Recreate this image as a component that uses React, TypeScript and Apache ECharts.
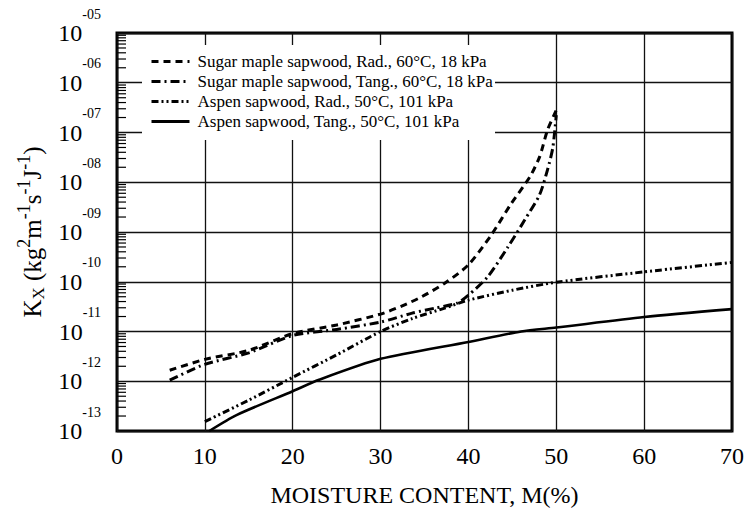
import React, { useEffect, useRef } from "react";
import * as echarts from "echarts";

// Series names, in legend order
const seriesNames = [
  "Sugar maple sapwood, Rad., 60°C, 18 kPa",
  "Sugar maple sapwood, Tang., 60°C, 18 kPa",
  "Aspen sapwood, Rad., 50°C, 101 kPa",
  "Aspen sapwood, Tang., 50°C, 101 kPa",
];

// Moisture content (%) and permeability-type coefficient Kx for each curve
const mapleRadM = [6, 10, 15, 20, 25, 30, 32.4, 34.7, 37.3, 40, 42.6, 44.9, 47, 48.1, 49, 50];
const mapleRadK = [
  1.66e-12, 2.75e-12, 4.17e-12, 9.1e-12, 1.35e-11, 2.24e-11, 3.24e-11, 5.01e-11, 9.33e-11,
  2.19e-10, 8.71e-10, 3.8e-9, 1.29e-8, 3.24e-8, 1.12e-7, 2.82e-7,
];

const mapleTangM = [6, 10, 15, 20, 25, 30, 33.6, 36.2, 38.7, 40, 42.2, 44.5, 46.4, 48.1, 49, 49.6, 50];
const mapleTangK = [
  1.05e-12, 2.19e-12, 3.72e-12, 8.32e-12, 1.1e-11, 1.55e-11, 2.34e-11, 2.95e-11, 3.72e-11,
  5.37e-11, 1.26e-10, 5.01e-10, 1.74e-9, 5.62e-9, 1.78e-8, 4.9e-8, 2.24e-7,
];

const aspenRadM = [10, 15, 20, 25, 30, 33.6, 37.3, 40, 45, 50, 60, 70];
const aspenRadK = [
  1.55e-13, 4.17e-13, 1.2e-12, 3.39e-12, 1.0e-11, 1.82e-11, 2.95e-11, 4.27e-11, 6.76e-11,
  9.77e-11, 1.58e-10, 2.45e-10,
];

const aspenTangM = [10.5, 13.6, 20, 23, 30, 40, 46, 50, 60, 70];
const aspenTangK = [
  1.0e-13, 2.09e-13, 6.31e-13, 1.07e-12, 2.82e-12, 6.17e-12, 1.0e-11, 1.2e-11, 1.95e-11, 2.82e-11,
];

// Axis ranges and tick labels
const xTickValues = [0, 10, 20, 30, 40, 50, 60, 70];
const yMin = 1e-13;
const yMax = 1e-5;
const decadeExponents = [-13, -12, -11, -10, -9, -8, -7, -6];

// Minor log ticks (2..9 within each decade) along the left edge
const minorTickValues: number[] = [];
decadeExponents.forEach((d) => {
  for (let k = 2; k <= 9; k++) minorTickValues.push(Number((k * Math.pow(10, d)).toPrecision(3)));
});

const SERIF = "'Liberation Serif', 'Times New Roman', serif";

function pair(xs: number[], ys: number[]) {
  return xs.map((x, i) => [x, ys[i]]);
}

function expLabel(v: number) {
  const e = Math.round(Math.log10(v));
  const s = (e < 0 ? "-" : "") + String(Math.abs(e)).padStart(2, "0");
  return `{b|10}{e|${s}}`;
}

export default function App() {
  const ref = useRef<HTMLDivElement>(null);

  useEffect(() => {
    if (!ref.current) return;
    const chart = echarts.init(ref.current, undefined, { renderer: "svg" });

    const lineBase = {
      type: "line" as const,
      symbol: "none",
      showSymbol: false,
      smooth: 0.25,
      itemStyle: { color: "#000" },
      z: 3,
    };

    chart.setOption({
      animation: false,
      backgroundColor: "#fff",
      grid: {
        left: 117,
        right: 12,
        top: 33,
        bottom: 82,
        show: true,
        borderColor: "#000",
        borderWidth: 3,
        backgroundColor: "transparent",
      },
      legend: {
        orient: "vertical",
        left: 142,
        top: 45,
        backgroundColor: "#fff",
        padding: [8, 2, 10, 8],
        itemWidth: 38,
        itemHeight: 16,
        itemGap: 3,
        data: seriesNames,
        itemStyle: { opacity: 0 },
        lineStyle: { width: 3 },
        textStyle: {
          fontFamily: SERIF,
          fontSize: 17,
          color: "#000",
          lineHeight: 16,
          padding: [0, 0, 0, 3],
        },
        z: 10,
      },
      xAxis: {
        type: "value",
        min: 0,
        max: 70,
        interval: 10,
        name: "MOISTURE CONTENT, M(%)",
        nameLocation: "middle",
        nameGap: 52,
        nameTextStyle: { fontFamily: SERIF, fontSize: 24, color: "#000" },
        axisLine: { show: false },
        axisTick: { show: false },
        axisLabel: {
          fontFamily: SERIF,
          fontSize: 24,
          color: "#000",
          margin: 13,
          formatter: (v: number) => (xTickValues.includes(v) ? String(v) : ""),
        },
        splitLine: { show: true, lineStyle: { color: "#111", width: 1.3 } },
      },
      yAxis: {
        type: "log",
        logBase: 10,
        min: yMin,
        max: yMax,
        interval: 1,
        name: "{k|K}{sub|X}{t| (kg}{sup|2}{t|m}{sup|-1}{t|s}{sup|-1}{t|J}{sup|-1}{t|)}",
        nameLocation: "middle",
        nameRotate: 90,
        nameGap: 68,
        nameTextStyle: {
          fontFamily: SERIF,
          color: "#000",
          rich: {
            k: { fontFamily: SERIF, fontSize: 25, lineHeight: 25, verticalAlign: "middle", color: "#000" },
            t: { fontFamily: SERIF, fontSize: 25, lineHeight: 25, verticalAlign: "middle", color: "#000" },
            sup: { fontFamily: SERIF, fontSize: 18, verticalAlign: "middle", padding: [0, 0, 16, 0], color: "#000" },
            sub: { fontFamily: SERIF, fontSize: 17, verticalAlign: "middle", padding: [12, 0, 0, 0], color: "#000" },
          },
        },
        axisLine: { show: false },
        axisTick: { show: false },
        axisLabel: {
          margin: 16,
          formatter: (v: number) => expLabel(v),
          rich: {
            b: { fontFamily: SERIF, fontSize: 24, lineHeight: 24, verticalAlign: "middle", color: "#000" },
            e: { fontFamily: SERIF, fontSize: 14, verticalAlign: "middle", padding: [0, 0, 38, 0], color: "#000" },
          },
        },
        splitLine: { show: true, lineStyle: { color: "#111", width: 1.3 } },
      },
      series: [
        {
          ...lineBase,
          name: seriesNames[0],
          data: pair(mapleRadM, mapleRadK),
          lineStyle: { color: "#000", width: 3, type: [7, 5] },
        },
        {
          ...lineBase,
          name: seriesNames[1],
          data: pair(mapleTangM, mapleTangK),
          lineStyle: { color: "#000", width: 3, type: [9, 4, 2, 4] },
        },
        {
          ...lineBase,
          name: seriesNames[2],
          data: pair(aspenRadM, aspenRadK),
          lineStyle: { color: "#000", width: 3, type: [7, 3, 2, 3, 2, 3] },
        },
        {
          ...lineBase,
          name: seriesNames[3],
          data: pair(aspenTangM, aspenTangK),
          lineStyle: { color: "#000", width: 2.6, type: "solid" },
        },
        {
          // minor log ticks pointing inward from the left frame
          type: "custom",
          name: "minorTicks",
          silent: true,
          clip: false,
          z: 6,
          data: minorTickValues.map((v) => [0, v]),
          renderItem: (_params: any, api: any) => {
            const p = api.coord([0, api.value(1)]);
            return {
              type: "line",
              shape: { x1: p[0], y1: p[1], x2: p[0] + 9, y2: p[1] },
              style: { stroke: "#000", lineWidth: 1.2 },
            };
          },
        },
      ],
    });

    return () => chart.dispose();
  }, []);

  return (
    <div
      ref={ref}
      style={{ position: "fixed", left: 0, top: 0, width: 747, height: 513, background: "#fff" }}
    />
  );
}
